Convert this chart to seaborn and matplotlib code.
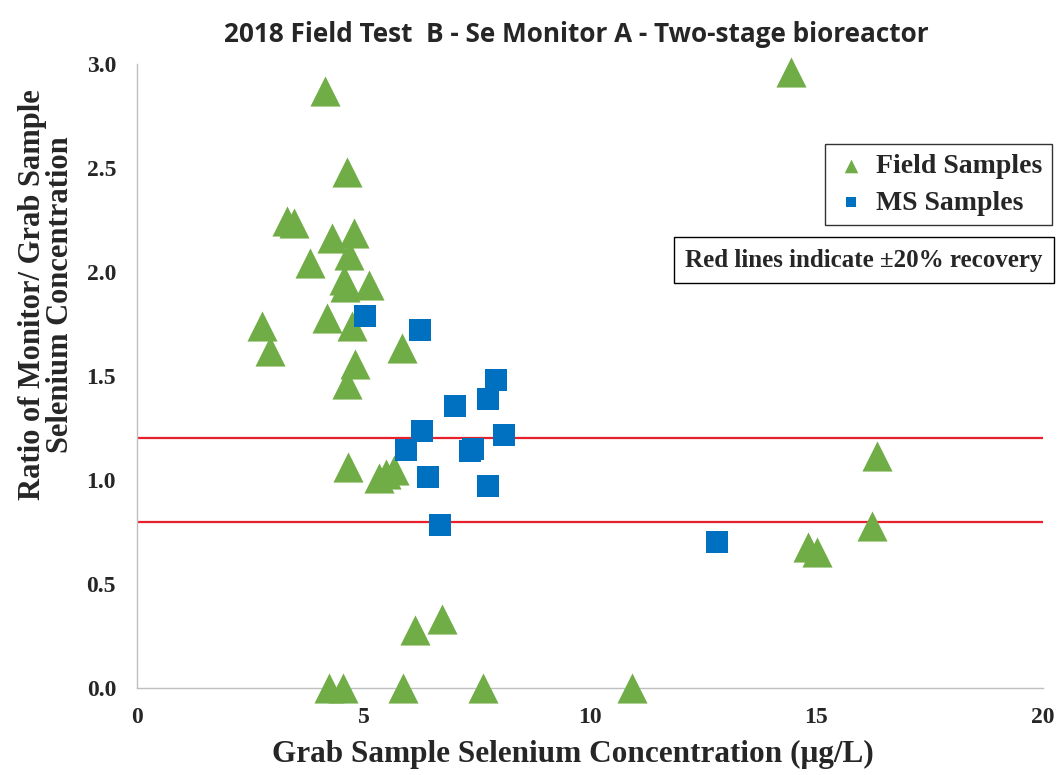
import pandas as pd
import numpy as np
import seaborn as sns
import matplotlib.pyplot as plt


# values
field_x = [4.16, 4.64, 3.31, 3.46, 4.31, 4.79, 4.68, 3.83, 4.57, 4.6, 5.12,
           2.76, 2.94, 4.2, 4.75, 5.86, 4.82, 4.64, 4.67, 5.35, 5.5, 5.68,
           6.15, 6.74, 4.25, 4.56, 5.87, 7.63, 10.93, 14.43, 16.33, 16.23,
           14.82, 15.02]
field_y = [2.87, 2.48, 2.245, 2.236, 2.165, 2.19, 2.08, 2.045, 1.96, 1.93, 1.94,
           1.74, 1.62, 1.78, 1.74, 1.636, 1.56, 1.46, 1.063, 1.01, 1.03, 1.05,
           0.28, 0.33, 0.0, 0.0, 0.0, 0.0, 0.0, 2.96, 1.114, 0.777,
           0.68, 0.656]
ms_x = [5.04, 6.25, 7.93, 7.75, 7.03, 6.3, 8.1, 5.94, 7.35, 7.42, 6.43, 7.74, 6.69, 12.81]
ms_y = [1.79, 1.72, 1.48, 1.39, 1.354, 1.234, 1.218, 1.146, 1.14, 1.15, 1.014, 0.973, 0.785, 0.704]
recovery_limits = [0.8, 1.2]
xticks = [0, 5, 10, 15, 20]
yticks = [0.0, 0.5, 1.0, 1.5, 2.0, 2.5, 3.0]

field = pd.DataFrame({'grab': field_x, 'ratio': field_y})
ms = pd.DataFrame({'grab': ms_x, 'ratio': ms_y})

sns.set_style('white')
plt.rcParams['font.family'] = ['Liberation Serif', 'DejaVu Serif']
plt.rcParams['font.weight'] = 'bold'

fig = plt.figure(figsize=(10.61, 7.75), dpi=100)
ax = fig.add_axes([0.129, 0.1123, 0.854, 0.805])

sns.scatterplot(data=field, x='grab', y='ratio', marker='^', s=470, color='#70AD47',
                linewidth=0, label='Field Samples', ax=ax, clip_on=False, zorder=3)
sns.scatterplot(data=ms, x='grab', y='ratio', marker='s', s=250, color='#0070C0',
                linewidth=0, label='MS Samples', ax=ax, clip_on=False, zorder=3)

for lim in recovery_limits:
    ax.axhline(lim, color='#E8202A', lw=1.6, zorder=2)

ax.set_xlim(0, 20)
ax.set_ylim(0, 3)
ax.set_xticks(xticks)
ax.set_yticks(yticks)
ax.set_yticklabels([f'{t:.1f}' for t in yticks])
ax.tick_params(axis='x', length=0, pad=14, labelsize=17)
ax.tick_params(axis='y', length=6, width=1, color='#BFBFBF', direction='in', pad=15, labelsize=17)
sns.despine(ax=ax)
for side in ['left', 'bottom']:
    ax.spines[side].set_color('#BFBFBF')
    ax.spines[side].set_linewidth(1)

ax.set_xlabel('Grab Sample Selenium Concentration (μg/L)', fontsize=22.5, fontweight='bold')
ax.xaxis.set_label_coords(0.481, -0.083)
ax.set_ylabel('Ratio of Monitor/ Grab Sample\nSelenium Concentration', fontsize=22,
              fontweight='bold', linespacing=0.95)
ax.yaxis.set_label_coords(-0.068, 0.63)

fig.text(0.543, 0.955, '2018 Field Test  B - Se Monitor A - Two-stage bioreactor',
         ha='center', va='center', fontsize=18.8, fontweight='bold',
         family=['Open Sans', 'DejaVu Sans'])

leg = ax.legend(loc='upper right', bbox_to_anchor=(1.0099, 0.872), fancybox=False,
                frameon=True, markerscale=0.45, fontsize=20, handletextpad=0.3,
                handlelength=1.2, borderpad=0.35, labelspacing=0.4, borderaxespad=0)
leg.get_frame().set_edgecolor('black')
leg.get_frame().set_linewidth(1.0)

fig.text(0.814, 0.6645, 'Red lines indicate ±20% recovery', ha='center', va='center',
         fontsize=18, fontweight='bold',
         bbox=dict(boxstyle='square,pad=0.45', facecolor='white', edgecolor='black', linewidth=1))

fig.savefig('out.png', dpi=100)
